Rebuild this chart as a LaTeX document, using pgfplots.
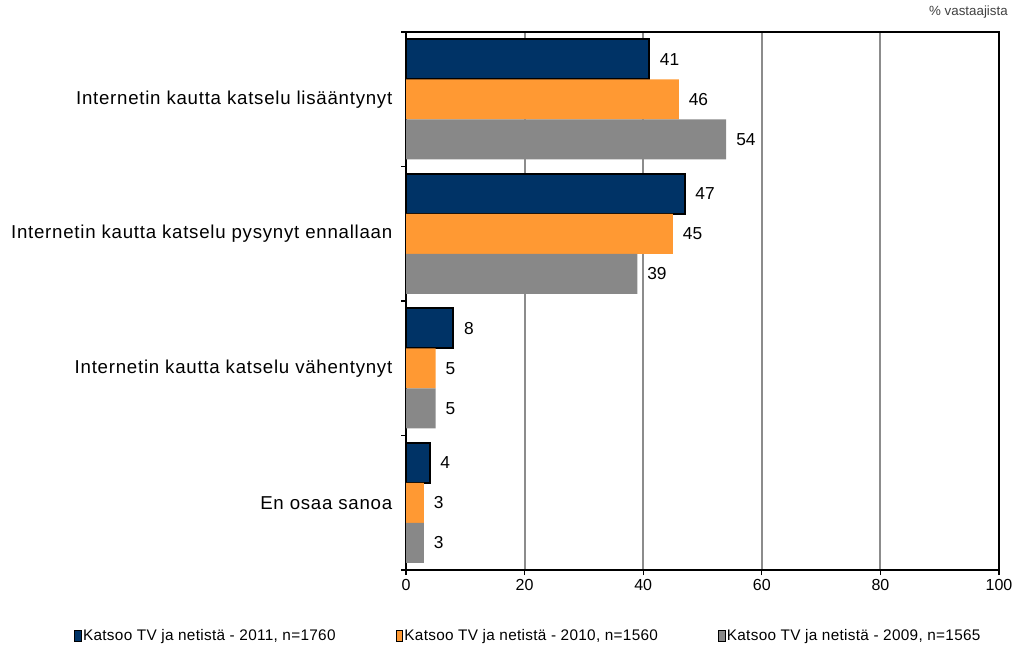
\documentclass[border=0pt]{standalone}
\usepackage{pgfplots}
\pgfplotsset{compat=1.18}
\usepackage{fontspec}
\setmainfont{Liberation Sans}
\newfontfamily\catfont[LetterSpace=4]{Liberation Sans}
\newfontfamily\legfont[LetterSpace=2]{Liberation Sans}
\definecolor{navy}{RGB}{0,51,102}
\definecolor{orng}{RGB}{255,153,51}
\definecolor{grb}{RGB}{136,136,136}
\definecolor{gridc}{RGB}{140,140,140}
\begin{document}
\begin{tikzpicture}
\useasboundingbox (0,0) rectangle (762pt,-488.25pt);
\node[anchor=east, font=\fontsize{10}{12}\selectfont, text=black!75, inner sep=0pt] at (756pt,-9pt) {\% vastaajista};
\begin{axis}[
  at={(304.5pt,-427.5pt)}, anchor=south west,
  scale only axis, width=444.75pt, height=403.5pt,
  xmin=0, xmax=100, ymin=-0.5, ymax=3.5, y dir=reverse,
  xbar, bar width=30pt,
  xtick={0,20,...,100},
  xmajorgrids, major grid style={draw=gridc, line width=1.5pt},
  ytick={0,1,2,3},
  yticklabels={Internetin kautta katselu lisääntynyt, Internetin kautta katselu pysynyt ennallaan, Internetin kautta katselu vähentynyt, En osaa sanoa},
  major y tick style={draw=none},
  minor ytick={-0.5,0.5,1.5,2.5,3.5},
  minor tick length=3.75pt, major tick length=3.75pt,
  tick align=outside, tick pos=left,
  tick style={black, line width=1pt},
  axis line style={line width=1.5pt},
  yticklabel style={font=\catfont\fontsize{14}{16}\selectfont, xshift=-3pt},
  xticklabel style={font=\fontsize{12}{14}\selectfont},
  /pgf/number format/assume math mode=true,
  nodes near coords,
  every node near coord/.append style={font=\fontsize{13}{15}\selectfont, anchor=west, xshift=4pt, text=black},
  legend columns=3,
  legend style={draw=none, at={(-0.5666,-0.1227)}, anchor=west, font=\legfont\fontsize{11.5}{13}\selectfont,
    /tikz/every even column/.append style={column sep=44pt},
    nodes={inner xsep=1pt}},
  legend image code/.code={\draw[#1, line width=0.6pt] (0pt,-4pt) rectangle (5pt,4pt);},
]
\addplot[fill=navy, draw=black, line width=1.5pt, bar shift=30pt] coordinates {(41,0) (47,1) (8,2) (4,3)};
\addplot[fill=orng, draw=none, bar shift=0pt] coordinates {(46,0) (45,1) (5,2) (3,3)};
\addplot[fill=grb, draw=none, bar shift=-30pt] coordinates {(54,0) (39,1) (5,2) (3,3)};
\legend{Katsoo TV ja netistä - 2011{,} n=1760, Katsoo TV ja netistä - 2010{,} n=1560, Katsoo TV ja netistä - 2009{,} n=1565}
\end{axis}
\end{tikzpicture}
\end{document}
